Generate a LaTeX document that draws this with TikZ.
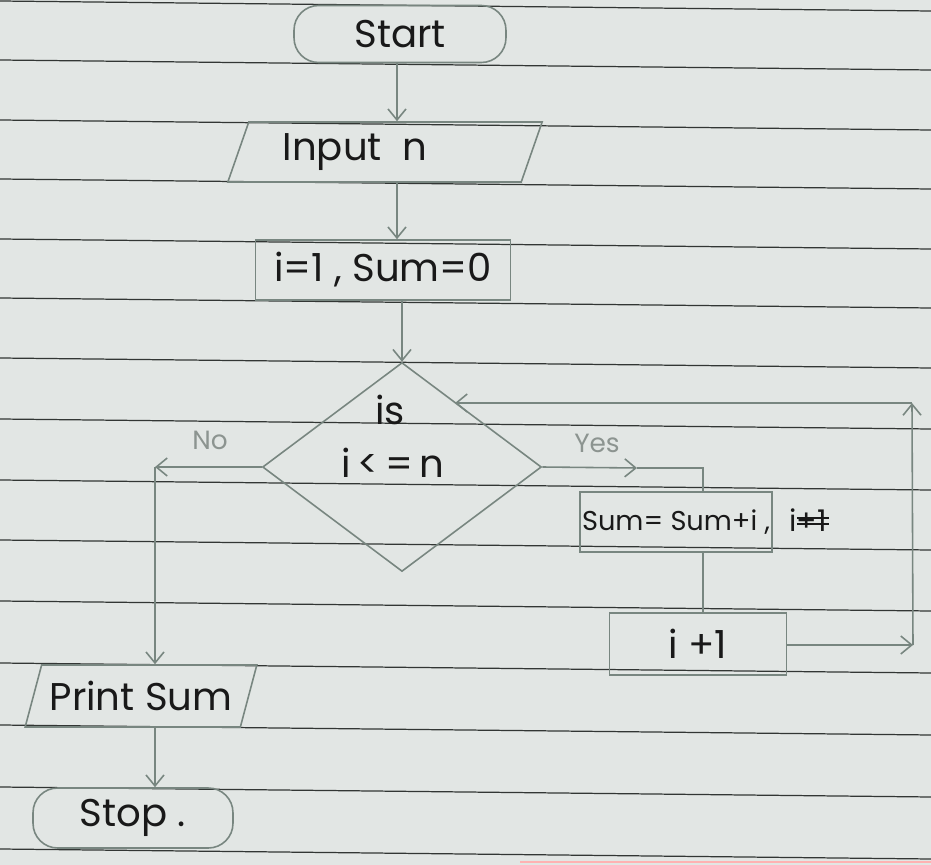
\documentclass[tikz,border=0pt]{standalone}
\usepackage{fontspec}
\setmainfont{Poppins}
\usetikzlibrary{shapes.geometric, arrows.meta, calc}

\definecolor{paper}{RGB}{226,230,228}
\definecolor{ruling}{RGB}{50,54,52}
\definecolor{pencil}{RGB}{120,134,128}
\definecolor{ink}{RGB}{25,25,25}
\definecolor{faint}{RGB}{140,148,144}

\tikzset{
  ruleline/.style={draw=ruling, line width=0.7pt},
  outline/.style={draw=pencil, line width=0.9pt, text=ink, inner sep=0pt,
    font=\fontsize{22}{26}\selectfont},
  terminal/.style={outline, rectangle, rounded corners=14pt},
  iobox/.style={outline, trapezium, trapezium stretches=true},
  procbox/.style={outline, rectangle},
  decision/.style={outline, diamond},
  flow/.style={draw=pencil, line width=0.9pt},
  tip/.style={-{Straight Barb[length=2.2mm, width=3.6mm, line width=0.9pt]}},
  txt/.style={text=ink, inner sep=0pt, font=\fontsize{22}{26}\selectfont},
  answer/.style={text=faint, inner sep=0pt, font=\fontsize{15}{18}\selectfont},
}

\begin{document}
\begin{tikzpicture}[x=0.02cm, y=-0.02cm]
  % ruled notebook page
  \fill[paper] (0,0) rectangle (931,865);
  \useasboundingbox (0,0) rectangle (931,865);
  \foreach \y in {1,60,120,179,239,298,358,419,480,540,601,663,725,787,849}
    \draw[ruleline] (0,\y) -- (931,\y+10);
  \draw[draw=red!30, line width=0.8pt] (520,862) -- (931,862);

  % shapes
  \node[terminal, minimum width=4.24cm, minimum height=1.14cm] (start) at (400,34) {Start};
  \node[iobox, trapezium left angle=67, trapezium right angle=113,
        minimum width=6.3cm, minimum height=1.2cm] (input) at (385,152) {Input\ \ n\hspace*{1.2cm}};
  \node[procbox, minimum width=5.1cm, minimum height=1.2cm] (init) at (383,270) {i=1 , Sum=0};
  \node[decision, minimum width=5.58cm, minimum height=4.18cm] (dec) at (402,467) {};
  \node[txt] (qis) at (390,410) {is};
  \node[txt] (qcond) at (393,463) {i\,<\,=\,n};
  \node[procbox, minimum width=3.84cm, minimum height=1.2cm,
        font=\fontsize{15.5}{18}\selectfont] (sum) at (676,522) {Sum= Sum+i ,};
  \node[txt, font=\fontsize{17}{20}\selectfont] (struck) at (808,520) {i+1};
  \draw[ink, line width=0.9pt] ($(struck.west)+(8,-2)$) -- ($(struck.east)+(2,-2)$);
  \draw[ink, line width=0.9pt] ($(struck.west)+(8,4)$) -- ($(struck.east)+(2,4)$);
  \node[procbox, minimum width=3.54cm, minimum height=1.24cm] (inc) at (698,644) {i +1};
  \node[iobox, trapezium left angle=63, trapezium right angle=117,
        minimum width=4.64cm, minimum height=1.24cm] (print) at (141,696) {Print Sum};
  \node[terminal, minimum width=4cm, minimum height=1.2cm] (stop) at (133,818) {Stop .};

  % branch labels
  \node[answer] (nolbl) at (210,440) {No};
  \node[answer] (yeslbl) at (597,443) {Yes};

  % corner points of the connectors
  \coordinate (nocorner) at (155,467);
  \coordinate (yesmid) at (637,468);
  \coordinate (yescorner) at (703,468);
  \coordinate (loopbot) at (913,645);
  \coordinate (looptop) at (912,403);
  \coordinate (loopend) at (455,403);
  \coordinate (spine) at (397,0);

  % main flow
  \draw[flow, tip] (start.south -| spine) -- (input.north -| spine);
  \draw[flow, tip] (input.south -| spine) -- (init.north -| spine);
  \draw[flow, tip] (init.south -| dec.north) -- (dec.north);

  % false branch
  \draw[flow, tip] (dec.west) -- (nocorner);
  \draw[flow, tip] (nocorner) -- (nocorner |- print.north);
  \draw[flow, tip] (print.south -| nocorner) -- (nocorner |- stop.north);

  % true branch and loop back
  \draw[flow, tip] (dec.east) -- (yesmid);
  \draw[flow] (yesmid) -- (yescorner) -- (yescorner |- sum.north);
  \draw[flow] (sum.south -| yescorner) -- (yescorner |- inc.north);
  \draw[flow, tip] (inc.east |- loopbot) -- (loopbot);
  \draw[flow, tip] (loopbot) -- (looptop);
  \draw[flow, tip] (looptop) -- (loopend);
\end{tikzpicture}
\end{document}
